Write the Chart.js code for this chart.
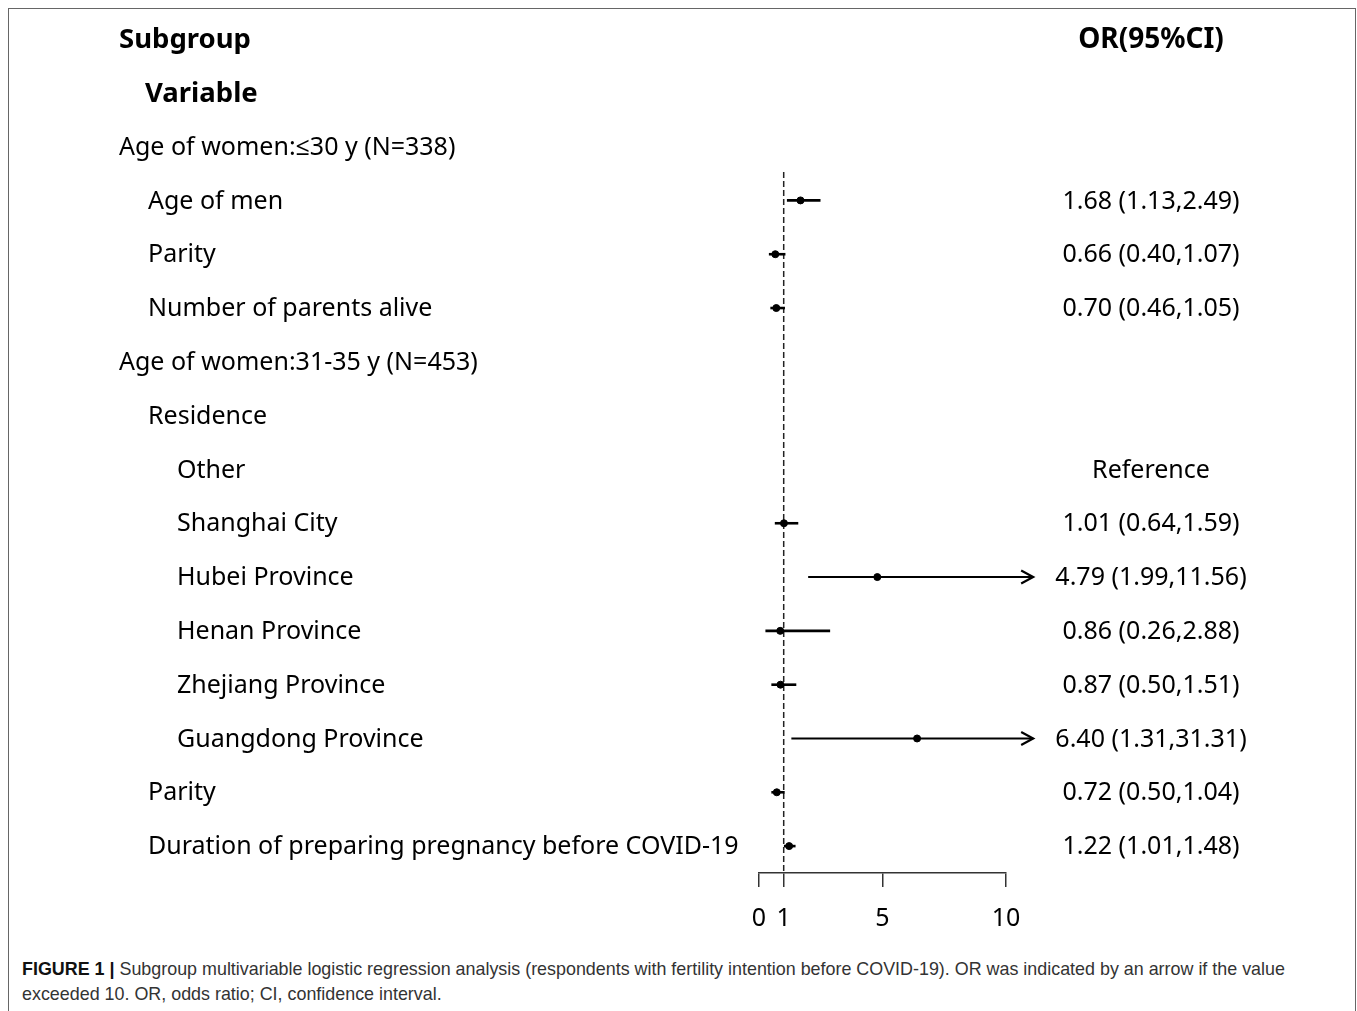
<!DOCTYPE html>
<html>
<head>
<meta charset="utf-8">
<script src="https://cdn.jsdelivr.net/npm/chart.js@4/dist/chart.umd.min.js"></script>
<style>
  html,body{margin:0;padding:0;background:#fff;width:1357px;height:1011px;overflow:hidden;}
  #frame{position:absolute;left:8px;top:8px;width:1348px;height:1010px;border:1.5px solid #666;border-bottom:none;box-sizing:border-box;}
  #wrap{position:absolute;left:0;top:0;width:1357px;height:940px;}
  #caption{position:absolute;left:22px;top:957px;font-family:"Liberation Sans",Arial,sans-serif;font-size:17.9px;line-height:25px;color:#333;white-space:nowrap;}
  #caption b{color:#111;}
</style>
</head>
<body>
<div id="frame"></div>
<div id="wrap"><canvas id="c"></canvas></div>
<div id="caption"><b>FIGURE 1 |</b> Subgroup multivariable logistic regression analysis (respondents with fertility intention before COVID-19). OR was indicated by an arrow if the value<br>exceeded 10. OR, odds ratio; CI, confidence interval.</div>
<script>
// ---------- DATA ----------
const rowLabels = [
  "Subgroup", "Variable",
  "Age of women:\u226430 y (N=338)",
  "Age of men", "Parity", "Number of parents alive",
  "Age of women:31-35 y (N=453)",
  "Residence", "Other", "Shanghai City", "Hubei Province", "Henan Province",
  "Zhejiang Province", "Guangdong Province",
  "Parity", "Duration of preparing pregnancy before COVID-19"
];
const rowIndent = [0, 1, 0, 1, 1, 1, 0, 1, 2, 2, 2, 2, 2, 2, 1, 1];
const rowBold   = [true, true, false, false, false, false, false, false, false, false, false, false, false, false, false, false];
const orValues  = [null, null, null, 1.68, 0.66, 0.70, null, null, null, 1.01, 4.79, 0.86, 0.87, 6.40, 0.72, 1.22];
const ciLow     = [null, null, null, 1.13, 0.40, 0.46, null, null, null, 0.64, 1.99, 0.26, 0.50, 1.31, 0.50, 1.01];
const ciHigh    = [null, null, null, 2.49, 1.07, 1.05, null, null, null, 1.59, 11.56, 2.88, 1.51, 31.31, 1.04, 1.48];
const rightLabels = [
  "OR(95%CI)", "", "",
  "1.68 (1.13,2.49)", "0.66 (0.40,1.07)", "0.70 (0.46,1.05)",
  "", "", "Reference",
  "1.01 (0.64,1.59)", "4.79 (1.99,11.56)", "0.86 (0.26,2.88)",
  "0.87 (0.50,1.51)", "6.40 (1.31,31.31)", "0.72 (0.50,1.04)", "1.22 (1.01,1.48)"
];
const xTickValues = [0, 1, 5, 10];
const refValue = 1;
const arrowCap = 11.1;   // values above 10 shown as an arrow ending here

// ---------- BUILD ----------
const FONT = '"Noto Sans", "Open Sans", sans-serif';
const datasets = [];
// dashed reference line
datasets.push({
  type: 'line', data: [{x: refValue, y: 2.47}, {x: refValue, y: 15.5}],
  borderColor: '#222', borderWidth: 1.5, borderDash: [6, 3], pointRadius: 0, clip: false, order: 3
});
// CI lines
orValues.forEach((v, i) => {
  if (v === null) return;
  datasets.push({
    type: 'line',
    data: [{x: ciLow[i], y: i}, {x: Math.min(ciHigh[i], arrowCap), y: i}],
    borderColor: '#000', borderWidth: ciHigh[i] > 10 ? 2 : 2.6, pointRadius: 0, clip: false, order: 2
  });
});
// points
datasets.push({
  type: 'scatter',
  data: orValues.map((v, i) => v === null ? null : {x: v, y: i}).filter(d => d),
  backgroundColor: '#000', borderColor: '#000', pointRadius: 3.5, pointStyle: 'circle', clip: false, order: 1
});

const textPlugin = {
  id: 'forestText',
  afterDatasetsDraw(chart) {
    const {ctx, scales: {x, y}} = chart;
    ctx.save();
    // arrowheads
    ciHigh.forEach((h, i) => {
      if (h === null || h <= 10) return;
      const px = x.getPixelForValue(arrowCap), py = y.getPixelForValue(i);
      ctx.strokeStyle = '#000'; ctx.lineWidth = 2.2;
      ctx.beginPath();
      ctx.moveTo(px - 12, py - 6.5); ctx.lineTo(px, py); ctx.lineTo(px - 12, py + 6.5);
      ctx.stroke();
    });
    ctx.fillStyle = '#000';
    ctx.textBaseline = 'middle';
    const indentX = [119, 148, 177];
    rowLabels.forEach((t, i) => {
      const py = y.getPixelForValue(i) + 1;
      ctx.font = (rowBold[i] ? 'bold 27.5px ' : '25px ') + FONT;
      ctx.textAlign = 'left';
      ctx.fillText(t, indentX[rowIndent[i]] - (rowBold[i] && rowIndent[i] ? 3 : 0), py);
      if (rightLabels[i]) {
        ctx.font = (i === 0 ? 'bold 28px ' : '25px ') + FONT;
        ctx.textAlign = 'center';
        ctx.fillText(rightLabels[i], 1151, py);
      }
    });
    ctx.restore();
  }
};

new Chart(document.getElementById('c'), {
  type: 'scatter',
  data: {datasets},
  options: {
    responsive: true, maintainAspectRatio: false, animation: false,
    layout: {padding: {left: 759, right: 351, top: 39, bottom: 7}},
    plugins: {legend: {display: false}, tooltip: {enabled: false}},
    scales: {
      x: {
        type: 'linear', min: 0, max: 10,
        afterBuildTicks: s => { s.ticks = xTickValues.map(v => ({value: v})); },
        afterFit: s => { s.height = 60; },
        grid: {drawOnChartArea: false, drawTicks: true, tickLength: 14, color: '#333', lineWidth: 1.5},
        border: {display: true, color: '#333', width: 1.5},
        ticks: {font: {family: FONT, size: 25}, color: '#000', padding: 17, maxRotation: 0, autoSkip: false}
      },
      y: {type: 'linear', min: 0, max: 15.5, reverse: true, display: false}
    }
  },
  plugins: [textPlugin]
});
</script>
</body>
</html>
